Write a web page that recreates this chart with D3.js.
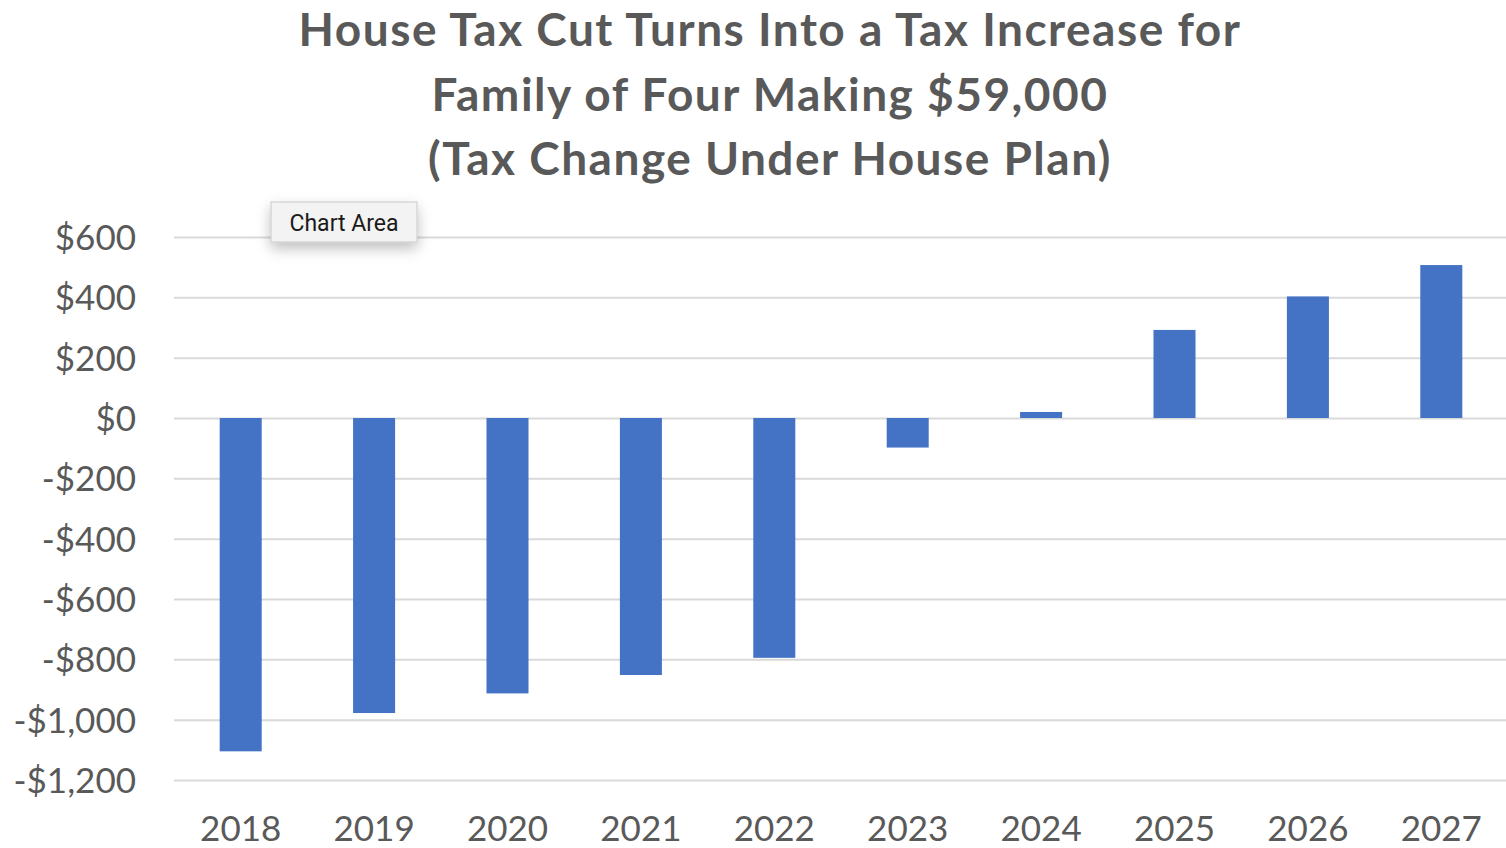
<!DOCTYPE html>
<html>
<head>
<meta charset="utf-8">
<script src="https://cdn.jsdelivr.net/npm/d3@7"></script>
<style>
  html, body { margin: 0; padding: 0; background: #fff; }
  svg { display: block; }
  text { font-family: Lato, "Open Sans", sans-serif; }
</style>
</head>
<body>
<svg id="chart" width="1506" height="848"></svg>
<script>
// Tax change by year for a family of four (dollars)
const years = ["2018", "2019", "2020", "2021", "2022", "2023", "2024", "2025", "2026", "2027"];
const taxChange = [-1105, -978, -913, -852, -795, -98, 20, 292, 403, 507];
const yTicks = [600, 400, 200, 0, -200, -400, -600, -800, -1000, -1200];
const titleLines = [
  "House Tax Cut Turns Into a Tax Increase for",
  "Family of Four Making $59,000",
  "(Tax Change Under House Plan)"
];

const svg = d3.select("#chart");
const W = 1506, H = 848;
const plot = { left: 174, right: 1508, top: 237, bottom: 780 };

const x = d3.scaleBand()
  .domain(years)
  .range([plot.left, plot.right])
  .paddingInner(0.685)
  .paddingOuter(0.3425);

const y = d3.scaleLinear()
  .domain([-1200, 600])
  .range([plot.bottom, plot.top]);

const fmt = v => (v < 0 ? "-$" : "$") + d3.format(",")(Math.abs(v));

// Title
svg.append("g")
  .selectAll("text")
  .data(titleLines)
  .join("text")
  .attr("x", 770)
  .attr("y", (d, i) => 46 + i * 64.5)
  .attr("text-anchor", "middle")
  .attr("font-size", 46)
  .attr("font-weight", 700)
  .attr("letter-spacing", 1.5)
  .attr("fill", "#595959")
  .text(d => d);

// Horizontal gridlines
const yAxis = d3.axisLeft(y)
  .tickValues(yTicks)
  .tickFormat(fmt)
  .tickSize(-(W - plot.left))
  .tickPadding(38);

const gy = svg.append("g")
  .attr("transform", `translate(${plot.left},0)`)
  .call(yAxis);
gy.select(".domain").remove();
gy.selectAll(".tick line")
  .attr("stroke", "#d9d9d9")
  .attr("stroke-width", 2);
gy.selectAll(".tick text")
  .attr("font-size", 35)
  .attr("fill", "#595959")
  .attr("dy", "0.36em");

// Bars
svg.append("g")
  .selectAll("rect")
  .data(years.map((yr, i) => ({ yr, v: taxChange[i] })))
  .join("rect")
  .attr("x", d => x(d.yr))
  .attr("width", x.bandwidth())
  .attr("y", d => y(Math.max(0, d.v)))
  .attr("height", d => Math.abs(y(d.v) - y(0)))
  .attr("fill", "#4472c4");

// Category axis labels
const xAxis = d3.axisBottom(x).tickSize(0).tickPadding(0);
const gx = svg.append("g")
  .attr("transform", `translate(0,${plot.bottom})`)
  .call(xAxis);
gx.select(".domain").remove();
gx.selectAll(".tick text")
  .attr("font-size", 35)
  .attr("fill", "#595959")
  .attr("y", 61)
  .attr("dy", 0);

// "Chart Area" hover tag
const defs = svg.append("defs");
const f = defs.append("filter").attr("id", "tagShadow")
  .attr("x", "-30%").attr("y", "-40%").attr("width", "160%").attr("height", "220%");
f.append("feDropShadow")
  .attr("dx", 0).attr("dy", 6).attr("stdDeviation", 7)
  .attr("flood-color", "#000").attr("flood-opacity", 0.25);

const tag = svg.append("g").attr("transform", "translate(271,202)");
tag.append("rect")
  .attr("width", 146).attr("height", 40)
  .attr("fill", "#f3f3f3")
  .attr("stroke", "#c8c8c8")
  .attr("stroke-width", 1)
  .attr("filter", "url(#tagShadow)");
tag.append("text")
  .attr("x", 73).attr("y", 29)
  .attr("text-anchor", "middle")
  .attr("font-size", 23)
  .attr("fill", "#1a1a1a")
  .style("font-family", "Roboto, 'Open Sans', sans-serif")
  .text("Chart Area");
</script>
</body>
</html>
